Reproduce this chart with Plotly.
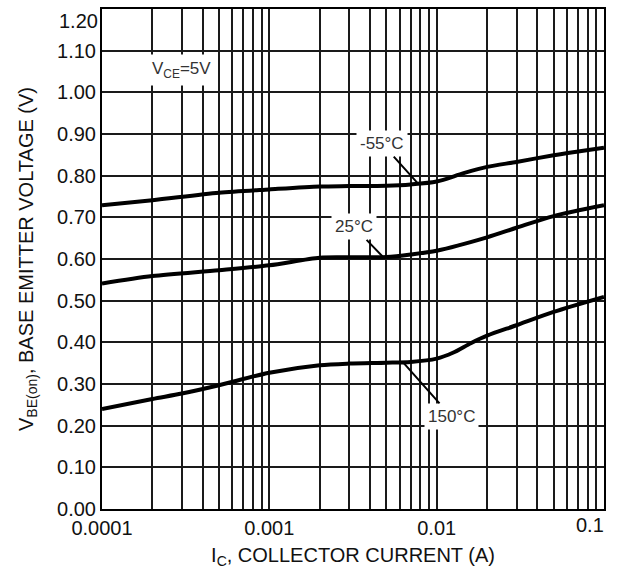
import math
import plotly.graph_objects as go

# Collector current (A) and V_BE(on) (V) for each junction temperature
ic_m55 = [1e-4, 2e-4, 5e-4, 1e-3, 2e-3, 3e-3, 5e-3, 7e-3, 1e-2, 1.45e-2, 2e-2, 3e-2, 5e-2, 7e-2, 1e-1]
vbe_m55 = [0.729, 0.741, 0.759, 0.767, 0.774, 0.775, 0.776, 0.779, 0.786, 0.806, 0.821, 0.833, 0.849, 0.858, 0.867]

ic_25 = [1e-4, 2e-4, 5e-4, 1e-3, 2e-3, 3e-3, 5e-3, 7e-3, 1e-2, 2e-2, 3e-2, 5e-2, 1e-1]
vbe_25 = [0.541, 0.559, 0.573, 0.585, 0.603, 0.604, 0.605, 0.611, 0.620, 0.652, 0.675, 0.703, 0.729]

ic_150 = [1e-4, 2e-4, 3e-4, 5e-4, 1e-3, 2e-3, 3e-3, 5e-3, 7e-3, 1e-2, 1.25e-2, 1.6e-2, 2e-2, 3e-2, 5e-2, 1e-1]
vbe_150 = [0.240, 0.264, 0.277, 0.297, 0.327, 0.345, 0.349, 0.351, 0.353, 0.361, 0.375, 0.398, 0.416, 0.441, 0.473, 0.509]

# Axis ticks
x_decades = [1e-4, 1e-3, 1e-2, 1e-1]
x_decade_labels = ["0.0001", "0.001", "0.01", "0.1"]
y_ticks = [round(0.1 * k, 2) for k in range(13)]
y_tick_labels = [f"{v:.2f}" for v in y_ticks]

# Labels: (text, current, voltage on curve, pixel offsets of the text)
curve_labels = [
    ("-55°C", 7.74e-3, 0.781, -36, -40),
    ("25°C", 4.78e-3, 0.605, -29, -30),
    ("150°C", 6.3e-3, 0.352, 48, 54),
]
vce_label_ic = 3.0e-4
vce_label_v = 1.053

# Log grid: every 1..9 multiple of each decade, labels only on decades.
# The last decade label is drawn separately, tucked inside the right edge.
x_grid = []
x_grid_text = []
for i, d in enumerate(x_decades[:-1]):
    for m in range(1, 10):
        x_grid.append(d * m)
        x_grid_text.append(x_decade_labels[i] if m == 1 else "")
x_grid.append(x_decades[-1])
x_grid_text.append("")

# Top y label is drawn separately, tucked below the top edge
y_axis_text = y_tick_labels[:-1] + [""]

FONT = "Liberation Sans, Arial, sans-serif"
TICK_FONT = dict(family=FONT, size=20, color="#111111")

fig = go.Figure()
for ic, vbe in [(ic_m55, vbe_m55), (ic_25, vbe_25), (ic_150, vbe_150)]:
    fig.add_trace(go.Scatter(
        x=ic, y=vbe, mode="lines",
        line=dict(color="black", width=4, shape="spline", smoothing=0.8),
        showlegend=False, hoverinfo="skip",
    ))

# Annotation positions on a log axis are given in log10 units
for text, x, y, ax, ay in curve_labels:
    fig.add_annotation(
        x=math.log10(x), y=y, xref="x", yref="y", text=text,
        showarrow=True, arrowhead=0, arrowwidth=2, arrowcolor="black",
        ax=ax, ay=ay, standoff=0,
        bgcolor="white", borderpad=3,
        font=dict(family=FONT, size=17, color="#333333"),
    )

fig.add_annotation(
    x=math.log10(vce_label_ic), y=vce_label_v, xref="x", yref="y",
    text="V<sub>CE</sub>=5V", showarrow=False,
    bgcolor="white", borderpad=4,
    font=dict(family=FONT, size=17, color="#333333"),
)

# Edge tick labels kept inside the page
fig.add_annotation(
    x=0, xref="paper", y=y_ticks[-1], yref="y",
    text=y_tick_labels[-1], showarrow=False,
    xanchor="right", yanchor="top", xshift=-2, yshift=1,
    font=TICK_FONT,
)
fig.add_annotation(
    x=math.log10(x_decades[-1]), xref="x", y=0, yref="paper",
    text=x_decade_labels[-1], showarrow=False,
    xanchor="right", yanchor="top", xshift=2, yshift=-3,
    font=TICK_FONT,
)

fig.update_layout(
    width=618, height=571,
    margin=dict(l=102, r=14, t=9, b=62, autoexpand=False),
    plot_bgcolor="white", paper_bgcolor="white",
    font=dict(family=FONT, size=20, color="#111111"),
)

fig.update_xaxes(
    type="log", range=[-4, -1], automargin=False, ticklabeloverflow="allow",
    tickmode="array", tickvals=x_grid, ticktext=x_grid_text, tickfont=TICK_FONT,
    ticks="", showgrid=True, gridcolor="#1a1a1a", gridwidth=1.6,
    showline=True, linecolor="black", linewidth=2, mirror=True,
    zeroline=False,
    title=dict(text="I<sub>C</sub>, COLLECTOR CURRENT (A)", standoff=10,
               font=dict(family=FONT, size=20, color="#111111")),
)
fig.update_yaxes(
    range=[0, 1.2], automargin=False, ticklabeloverflow="allow",
    tickmode="array", tickvals=y_ticks, ticktext=y_axis_text, tickfont=TICK_FONT,
    ticks="", showgrid=True, gridcolor="#1a1a1a", gridwidth=1.8,
    showline=True, linecolor="black", linewidth=2, mirror=True,
    zeroline=False,
    title=dict(text="V<sub>BE(on)</sub>, BASE EMITTER VOLTAGE (V)", standoff=18,
               font=dict(family=FONT, size=20, color="#111111")),
)

fig.write_html("out.html")
